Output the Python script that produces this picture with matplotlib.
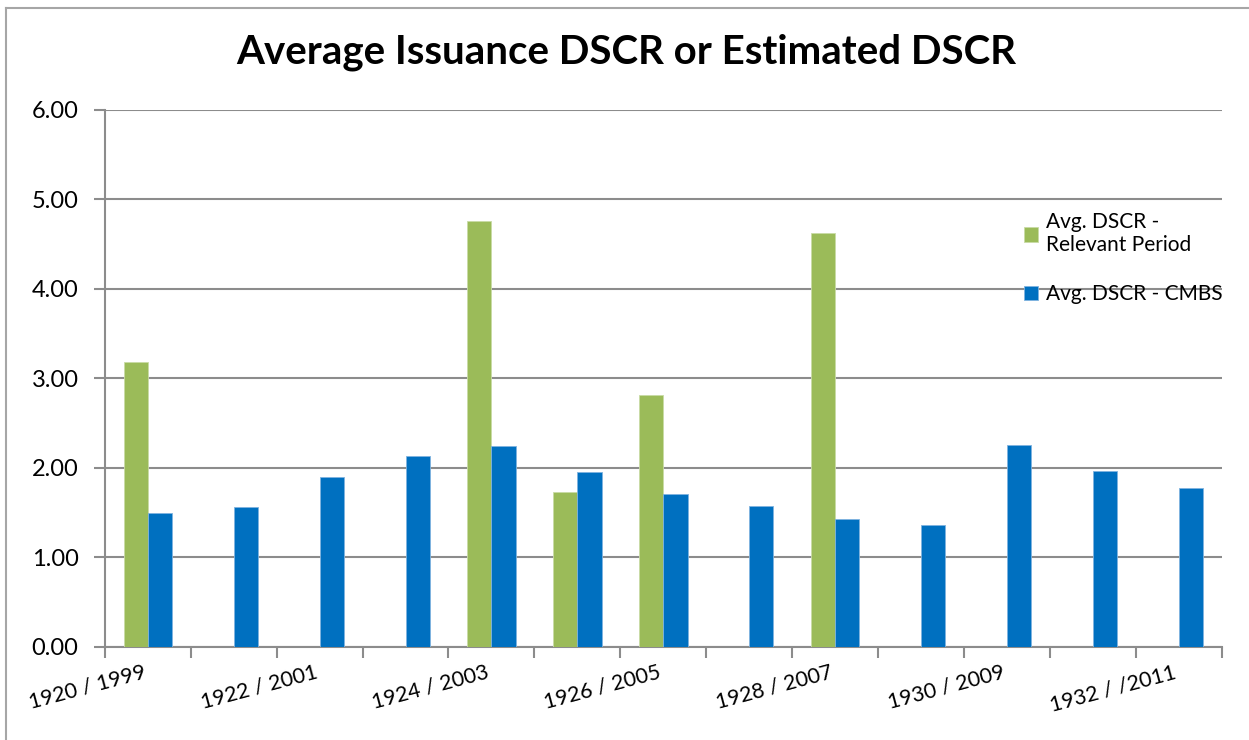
import numpy as np
import matplotlib
matplotlib.use("Agg")
import matplotlib.pyplot as plt
from matplotlib.lines import Line2D

plt.rcParams['font.family'] = ['Lato', 'DejaVu Sans']

# data
categories = ['1920 / 1999', '1921 / 2000', '1922 / 2001', '1923 / 2002',
              '1924 / 2003', '1925 / 2004', '1926 / 2005', '1927 / 2006',
              '1928 / 2007', '1929 / 2008', '1930 / 2009', '1931 / 2010',
              '1932 / /2011']
relevant = [3.18, np.nan, np.nan, np.nan, 4.76, 1.73, 2.81, np.nan,
            4.63, np.nan, np.nan, np.nan, np.nan]
cmbs = [1.50, 1.56, 1.90, 2.13, 2.25, 1.96, 1.71, 1.58,
        1.43, 1.36, 2.26, 1.97, 1.78]
yticks = [0, 1, 2, 3, 4, 5, 6]

green = '#9BBB59'
blue = '#0070C0'
grid_c = '#8C8C8C'

fig = plt.figure(figsize=(12.49, 7.40), dpi=100)
ax = fig.add_axes([0.084, 0.1257, 0.894, 0.7257])

x = np.arange(len(categories))
w = 0.283
ax.bar(x - w / 2, relevant, w, color=green, edgecolor='#C9DBA6', linewidth=0.6,
       label='Avg. DSCR -\nRelevant Period', zorder=3)
ax.bar(x + w / 2, cmbs, w, color=blue, edgecolor='#7FB3DF', linewidth=0.6,
       label='Avg. DSCR - CMBS', zorder=3)

ax.set_xlim(-0.5, len(categories) - 0.5)
ax.set_ylim(0, 6)
ax.set_yticks(yticks)
ax.set_yticklabels(['%.2f' % v for v in yticks], fontsize=17)
ax.yaxis.grid(True, color=grid_c, linewidth=1.5, zorder=0)
ax.set_axisbelow(True)

# labels on every other category, tick marks between categories
ax.set_xticks(x[::2])
ax.set_xticklabels(categories[::2], rotation=15, ha='right', va='top', fontsize=15.5)
ax.tick_params(axis='x', which='major', length=0, pad=11)
ax.set_xticks(np.arange(len(categories) + 1) - 0.5, minor=True)
ax.tick_params(axis='x', which='minor', length=8, width=1.5, color=grid_c)
ax.tick_params(axis='y', length=8, width=1.5, color=grid_c, pad=11)

for s in ['top', 'right']:
    ax.spines[s].set_visible(False)
for s in ['left', 'bottom']:
    ax.spines[s].set_color(grid_c)
    ax.spines[s].set_linewidth(1.5)

ax.legend(loc='upper left', bbox_to_anchor=(0.806, 0.845), frameon=False,
          fontsize=15, handlelength=0.7, handleheight=0.7, handletextpad=0.35,
          labelspacing=1.4)

fig.text(0.501, 0.93, 'Average Issuance DSCR or Estimated DSCR',
         ha='center', va='center', fontsize=29, fontweight='bold')

# outer chart border (left and top only visible in the crop)
fig.add_artist(Line2D([6 / 1249, 6 / 1249], [0, 1 - 8 / 740], color='#A6A6A6', lw=1.5))
fig.add_artist(Line2D([6 / 1249, 1], [1 - 8 / 740, 1 - 8 / 740], color='#A6A6A6', lw=1.5))

fig.savefig('out.png', dpi=100)
